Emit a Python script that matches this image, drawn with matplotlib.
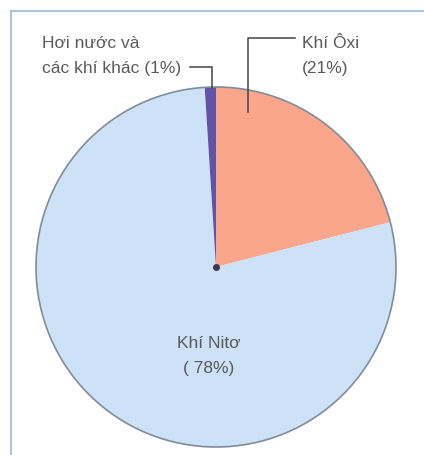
import matplotlib
matplotlib.use("Agg")
import matplotlib.pyplot as plt
from matplotlib.patches import Circle

labels = ["Khí Ôxi\n(21%)", "Khí Nitơ\n( 78%)", "Hơi nước và\ncác khí khác (1%)"]
values = [21, 78, 1]
colors = ["#f9a68c", "#cde2f6", "#6452a6"]

W, H = 424, 455
fig = plt.figure(figsize=(W / 100, H / 100), dpi=100)
ax = fig.add_axes([0, 0, 1, 1])

cx, cy, r = 216, H - 267, 180
ax.pie(values, colors=colors, startangle=90, counterclock=False,
       center=(cx, cy), radius=r, wedgeprops=dict(linewidth=0))
ax.add_patch(Circle((cx, cy), r, fill=False, edgecolor="#7f8c99", linewidth=1.2))
ax.plot([cx], [cy], marker="o", color="#3a3a55", markersize=4)

ax.set_xlim(0, W)
ax.set_ylim(0, H)
ax.set_aspect("equal")
ax.axis("off")

# frame lines
ax.plot([11, W], [H - 11, H - 11], color="#a9c3dc", linewidth=1.5)
ax.plot([11, 11], [H - 11, 0], color="#a9c3dc", linewidth=1.5)

tc = "#5a5a5a"
fs = 12.5
font = "Liberation Sans"
ax.text(42, H - 76, labels[2], ha="left", va="bottom", fontsize=fs, color=tc,
        family=font, linespacing=1.85)
ax.text(302, H - 76, labels[0], ha="left", va="bottom", fontsize=fs, color=tc,
        family=font, linespacing=1.85)
ax.text(209, H - 356, labels[1], ha="center", va="center", fontsize=fs, color=tc,
        family=font, linespacing=1.75)

lc = "#444444"
ax.plot([190, 212, 212], [H - 67, H - 67, H - 88], color=lc, linewidth=1.1)
ax.plot([295, 248, 248], [H - 38, H - 38, H - 112], color=lc, linewidth=1.1)

fig.savefig("out.png", dpi=100, facecolor="white")
